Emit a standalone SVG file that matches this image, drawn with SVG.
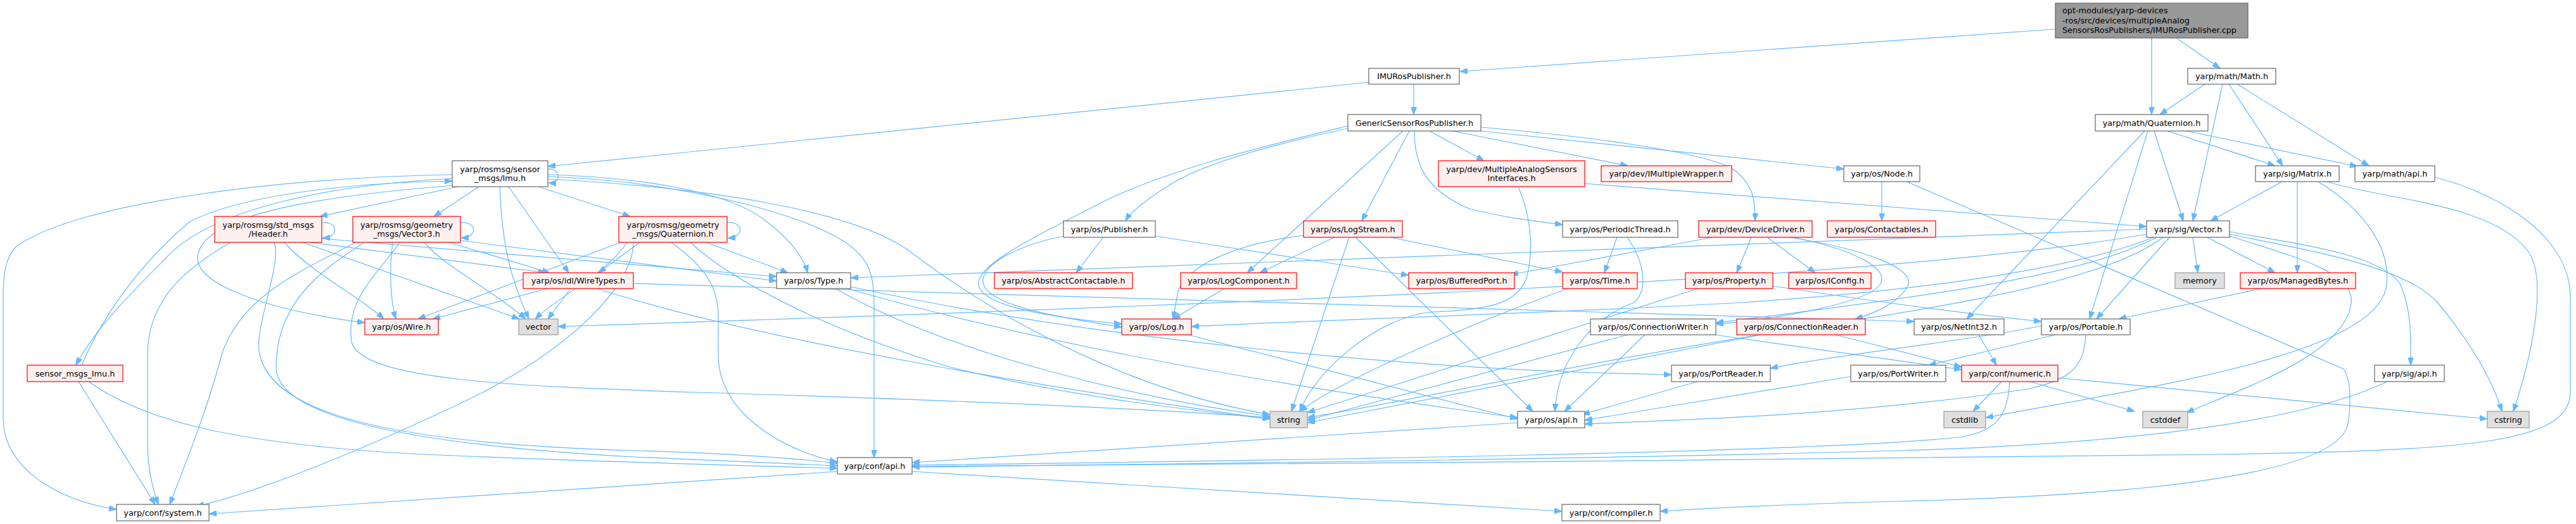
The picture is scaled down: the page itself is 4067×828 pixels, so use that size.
<svg xmlns="http://www.w3.org/2000/svg" width="4067" height="828" viewBox="0 0 4067 828">
<style>
.nw rect{fill:#ffffff;stroke:#666666;stroke-width:1.2}
.nr rect{fill:#fff0f0;stroke:#ff0000;stroke-width:1.2}
.ng rect{fill:#e0e0e0;stroke:#999999;stroke-width:1.2}
.nroot rect{fill:#999999;stroke:#666666;stroke-width:1.2}
text{font-family:"DejaVu Sans","Liberation Sans",sans-serif;font-size:12.8px;fill:#000000;text-anchor:middle}
.nroot text{text-anchor:start}
#edges path{fill:none;stroke:#63b8ff;stroke-width:1.2;marker-end:url(#a)}
</style>
<defs>
<marker id="a" markerWidth="12" markerHeight="9" refX="12" refY="4.5" orient="auto" markerUnits="userSpaceOnUse"><path d="M0,0 L12,4.5 L0,9 z" fill="#63b8ff" stroke="#63b8ff" stroke-width="1"/></marker>
</defs>
<rect x="0" y="0" width="4067" height="828" fill="#ffffff"/>
<g id="edges">
<path d="M3245,46 L2305,113"/>
<path d="M3397,60 L3397,181"/>
<path d="M3436,60 L3505,108"/>
<path d="M2232,133 L2232,181"/>
<path d="M2161,130 L865,263"/>
<path d="M3481,133 L3410,181"/>
<path d="M3509,133 L3462,349"/>
<path d="M3519,133 L3604,262"/>
<path d="M3532,133 L3740,262"/>
<path d="M3401,207 L3447,349"/>
<path d="M3422,207 L3592,262"/>
<path d="M3452,207 L3722,263"/>
<path d="M3386,207 L3105,504"/>
<path d="M3391,207 L3299,504"/>
<path d="M3603,287 L3490,349"/>
<path d="M3627,287 L3627,431"/>
<path d="M3660,287 C3730,330 3775,390 3768,450 C3755,560 3400,610 3135,660"/>
<path d="M3674,287 C3760,315 3930,320 3990,395 C4025,440 3995,570 3968,650"/>
<path d="M3844,280 C3960,310 4058,380 4058,470 L4058,620 C4058,700 3900,712 3500,718 C3000,726 2000,733 1440,737"/>
<path d="M3389,362 L1343,439"/>
<path d="M3400,375 C3300,415 3100,455 2750,478 C2500,493 2100,505 1881,516"/>
<path d="M3405,375 C3300,430 3100,462 2709,510"/>
<path d="M3415,375 C3330,440 3100,480 2900,510 C2500,570 2250,630 2064,660"/>
<path d="M3389,370 C3000,440 2000,480 881,516"/>
<path d="M3425,375 L3310,504"/>
<path d="M3462,375 L3470,431"/>
<path d="M3485,375 L3592,431"/>
<path d="M3520,366 C3620,385 3760,400 3790,450 C3808,490 3806,540 3806,577"/>
<path d="M3520,370 C3640,395 3800,420 3850,480 C3900,540 3935,600 3950,650"/>
<path d="M3520,373 C3620,405 3720,430 3712,480 C3700,560 3550,610 3452,652"/>
<path d="M3570,456 L3345,504"/>
<path d="M2971,287 L2971,349"/>
<path d="M3010,287 L3700,583 C3712,600 3712,640 3707,670 C3690,760 3300,785 3000,792 C2850,796 2700,803 2621,808"/>
<path d="M2128,203 C2000,230 1900,260 1850,290 C1810,315 1785,335 1777,349"/>
<path d="M2128,199 C2000,230 1830,270 1720,330 C1600,390 1550,420 1545,445 C1540,480 1640,500 1771,512"/>
<path d="M1679,373 C1620,385 1560,410 1552,440 C1545,480 1660,500 1771,517"/>
<path d="M2215,207 L1969,431"/>
<path d="M2225,207 L2150,349"/>
<path d="M2233,207 C2233,260 2250,300 2320,330 C2380,345 2430,350 2467,355"/>
<path d="M2257,207 L2343,254"/>
<path d="M2293,207 L2570,262"/>
<path d="M2338,207 L2911,267"/>
<path d="M2338,201 C2500,215 2700,240 2740,270 C2770,295 2771,320 2771,349"/>
<path d="M2502,290 L3389,358"/>
<path d="M2397,295 C2420,350 2420,400 2410,440 C2395,480 2350,490 2260,493 C2180,500 2080,580 2052,650"/>
<path d="M1742,375 L1699,431"/>
<path d="M1824,373 L2224,435"/>
<path d="M2058,372 C1950,385 1875,420 1860,460 L1852,504"/>
<path d="M2107,375 L1989,431"/>
<path d="M2130,375 L2039,650"/>
<path d="M2140,375 L2420,650"/>
<path d="M2195,375 L2467,430"/>
<path d="M2553,375 L2533,431"/>
<path d="M2569,375 C2600,420 2600,460 2580,478 C2520,500 2460,560 2455,650"/>
<path d="M2704,375 L2385,434"/>
<path d="M2765,375 L2742,431"/>
<path d="M2790,375 L2866,431"/>
<path d="M2826,375 C2950,395 3025,425 3012,452 C2998,478 2960,495 2929,504"/>
<path d="M2830,375 C2930,395 2985,425 2968,450 C2945,480 2800,505 2709,512"/>
<path d="M2681,456 L2064,652"/>
<path d="M2799,452 C2950,475 3100,495 3223,508"/>
<path d="M2475,456 C2300,520 2120,600 2052,650"/>
<path d="M1319,456 C1500,560 1800,630 2005,658"/>
<path d="M1338,456 C1700,560 2100,620 2396,660"/>
<path d="M1343,453 C1700,530 2200,585 2639,592"/>
<path d="M1933,456 L1852,504"/>
<path d="M1876,529 L2396,662"/>
<path d="M865,456 L683,504"/>
<path d="M901,456 L865,504"/>
<path d="M1000,448 C1800,470 2600,490 3022,508"/>
<path d="M943,456 C1200,540 1700,620 2005,662"/>
<path d="M508,352 C532,348 538,375 509,376"/>
<path d="M727,352 C751,348 757,375 728,376"/>
<path d="M1148,352 C1172,348 1178,375 1149,376"/>
<path d="M865,267 C885,265 888,290 866,289"/>
<path d="M723,295 L505,342"/>
<path d="M756,295 L685,342"/>
<path d="M850,295 L995,342"/>
<path d="M803,295 L898,431"/>
<path d="M789,295 C792,380 805,440 835,504"/>
<path d="M714,276 C450,280 120,320 25,390 C10,405 5,430 5,470 L5,660 C5,740 90,790 184,805"/>
<path d="M714,282 C520,292 330,330 260,410 C200,470 150,520 120,577"/>
<path d="M716,293 C500,310 310,340 312,410 C315,450 420,490 576,510"/>
<path d="M865,276 C1000,280 1150,300 1210,350 C1250,380 1270,410 1275,431"/>
<path d="M865,279 C1050,285 1250,330 1330,380 C1370,405 1380,430 1380,480 L1380,723"/>
<path d="M865,283 C1100,295 1350,330 1440,400 C1600,520 1800,620 2005,655"/>
<path d="M129,577 C170,480 240,400 300,350 C400,300 600,288 714,286"/>
<path d="M124,603 L245,797"/>
<path d="M140,603 C220,660 350,700 650,717 C850,727 1150,735 1322,740"/>
<path d="M364,383 C300,420 233,470 233,560 L233,700 C233,740 240,770 250,797"/>
<path d="M449,383 C490,430 570,470 606,504"/>
<path d="M508,377 L1226,437"/>
<path d="M490,383 L862,431"/>
<path d="M478,383 L820,504"/>
<path d="M433,383 C445,420 400,520 410,560 C430,650 600,700 1000,712 C1150,716 1250,724 1322,732"/>
<path d="M562,383 C470,430 380,470 350,560 C330,640 290,740 268,797"/>
<path d="M620,383 C615,420 615,470 625,504"/>
<path d="M727,380 L1226,444"/>
<path d="M709,383 L868,431"/>
<path d="M670,383 C700,420 780,460 830,504"/>
<path d="M575,383 C520,420 436,470 436,580 C436,650 600,700 1000,722 C1150,728 1250,732 1322,736"/>
<path d="M631,383 C600,430 545,470 555,540 C570,600 800,610 1100,620 C1500,632 1800,645 2005,660"/>
<path d="M1000,383 C1000,450 900,560 700,650 C550,720 400,780 310,800"/>
<path d="M980,383 L660,504"/>
<path d="M1115,383 L1244,431"/>
<path d="M1010,383 L945,431"/>
<path d="M990,383 C960,430 880,470 845,504"/>
<path d="M1060,383 C1110,420 1134,450 1134,500 L1134,560 C1134,650 1230,710 1322,730"/>
<path d="M1090,383 C1150,440 1300,520 1500,580 C1700,630 1900,650 2005,662"/>
<path d="M1322,745 L330,812"/>
<path d="M1440,745 L2466,808"/>
<path d="M2396,668 L1440,731"/>
<path d="M3173,603 C3170,660 3150,680 3100,690 C2900,715 2000,728 1440,735"/>
<path d="M3769,603 C3650,660 3400,700 3000,712 C2500,726 1800,734 1440,738"/>
<path d="M3223,515 C3100,540 2900,560 2795,582"/>
<path d="M3245,529 L3045,577"/>
<path d="M3293,529 C3290,580 3270,600 3200,615 C2900,660 2600,665 2502,670"/>
<path d="M2922,595 L2502,664"/>
<path d="M2680,603 L2498,655"/>
<path d="M2570,529 L2064,664"/>
<path d="M2597,529 L2470,650"/>
<path d="M2707,529 L3097,584"/>
<path d="M2780,529 L2064,668"/>
<path d="M2898,529 L3097,580"/>
<path d="M3124,529 L3152,577"/>
<path d="M3160,603 L3115,650"/>
<path d="M3205,603 L3370,650"/>
<path d="M3249,597 L3927,662"/>
</g>
<g id="n_root" class="nroot"><rect x="3245" y="5" width="304" height="55"/><text x="3256" y="21">opt-modules/yarp-devices</text><text x="3256" y="36.5">-ros/src/devices/multipleAnalog</text><text x="3256" y="51.5">SensorsRosPublishers/IMURosPublisher.cpp</text></g>
<g id="n_imupub" class="nw"><rect x="2161" y="108" width="143" height="25"/><text x="2232.5" y="125">IMURosPublisher.h</text></g>
<g id="n_math" class="nw"><rect x="3454" y="108" width="139" height="25"/><text x="3523.5" y="125">yarp/math/Math.h</text></g>
<g id="n_gsrp" class="nw"><rect x="2128" y="181" width="210" height="26"/><text x="2233" y="198.5">GenericSensorRosPublisher.h</text></g>
<g id="n_mquat" class="nw"><rect x="3308" y="181" width="178" height="26"/><text x="3397" y="198.5">yarp/math/Quaternion.h</text></g>
<g id="n_simu" class="nw"><rect x="714" y="254" width="151" height="41"/><text x="789.5" y="271.5">yarp/rosmsg/sensor</text><text x="789.5" y="285.5">_msgs/Imu.h</text></g>
<g id="n_masi" class="nr"><rect x="2271" y="254" width="231" height="41"/><text x="2386.5" y="271.5">yarp/dev/MultipleAnalogSensors</text><text x="2386.5" y="285.5">Interfaces.h</text></g>
<g id="n_imw" class="nr"><rect x="2528" y="262" width="206" height="25"/><text x="2631" y="279">yarp/dev/IMultipleWrapper.h</text></g>
<g id="n_node" class="nw"><rect x="2911" y="262" width="120" height="25"/><text x="2971" y="279">yarp/os/Node.h</text></g>
<g id="n_matrix" class="nw"><rect x="3561" y="262" width="132" height="25"/><text x="3627" y="279">yarp/sig/Matrix.h</text></g>
<g id="n_mapi" class="nw"><rect x="3718" y="262" width="126" height="25"/><text x="3781" y="279">yarp/math/api.h</text></g>
<g id="n_header" class="nr"><rect x="339" y="342" width="169" height="41"/><text x="423.5" y="359.5">yarp/rosmsg/std_msgs</text><text x="423.5" y="373.5">/Header.h</text></g>
<g id="n_vec3" class="nr"><rect x="557" y="342" width="170" height="41"/><text x="642" y="359.5">yarp/rosmsg/geometry</text><text x="642" y="373.5">_msgs/Vector3.h</text></g>
<g id="n_rquat" class="nr"><rect x="977" y="342" width="171" height="41"/><text x="1062.5" y="359.5">yarp/rosmsg/geometry</text><text x="1062.5" y="373.5">_msgs/Quaternion.h</text></g>
<g id="n_pub" class="nw"><rect x="1679" y="349" width="145" height="26"/><text x="1751.5" y="366.5">yarp/os/Publisher.h</text></g>
<g id="n_logstream" class="nr"><rect x="2058" y="349" width="156" height="26"/><text x="2136" y="366.5">yarp/os/LogStream.h</text></g>
<g id="n_pthread" class="nw"><rect x="2467" y="349" width="182" height="26"/><text x="2558" y="366.5">yarp/os/PeriodicThread.h</text></g>
<g id="n_ddriver" class="nr"><rect x="2682" y="349" width="179" height="26"/><text x="2771.5" y="366.5">yarp/dev/DeviceDriver.h</text></g>
<g id="n_contactables" class="nr"><rect x="2885" y="349" width="171" height="26"/><text x="2970.5" y="366.5">yarp/os/Contactables.h</text></g>
<g id="n_svec" class="nw"><rect x="3389" y="349" width="131" height="26"/><text x="3454.5" y="366.5">yarp/sig/Vector.h</text></g>
<g id="n_wiretypes" class="nr"><rect x="826" y="431" width="174" height="25"/><text x="913" y="448">yarp/os/idl/WireTypes.h</text></g>
<g id="n_type" class="nw"><rect x="1226" y="431" width="117" height="25"/><text x="1284.5" y="448">yarp/os/Type.h</text></g>
<g id="n_abscont" class="nr"><rect x="1570" y="431" width="218" height="25"/><text x="1679" y="448">yarp/os/AbstractContactable.h</text></g>
<g id="n_logcomp" class="nr"><rect x="1864" y="431" width="183" height="25"/><text x="1955.5" y="448">yarp/os/LogComponent.h</text></g>
<g id="n_bport" class="nr"><rect x="2224" y="431" width="167" height="25"/><text x="2307.5" y="448">yarp/os/BufferedPort.h</text></g>
<g id="n_time" class="nr"><rect x="2467" y="431" width="118" height="25"/><text x="2526" y="448">yarp/os/Time.h</text></g>
<g id="n_property" class="nr"><rect x="2661" y="431" width="138" height="25"/><text x="2730" y="448">yarp/os/Property.h</text></g>
<g id="n_iconfig" class="nr"><rect x="2824" y="431" width="130" height="25"/><text x="2889" y="448">yarp/os/IConfig.h</text></g>
<g id="n_memory" class="ng"><rect x="3434" y="431" width="78" height="25"/><text x="3473" y="448">memory</text></g>
<g id="n_mbytes" class="nr"><rect x="3537" y="431" width="182" height="25"/><text x="3628" y="448">yarp/os/ManagedBytes.h</text></g>
<g id="n_wire" class="nr"><rect x="576" y="504" width="116" height="25"/><text x="634" y="521">yarp/os/Wire.h</text></g>
<g id="n_vector" class="ng"><rect x="819" y="504" width="62" height="25"/><text x="850" y="521">vector</text></g>
<g id="n_log" class="nr"><rect x="1771" y="504" width="110" height="25"/><text x="1826" y="521">yarp/os/Log.h</text></g>
<g id="n_cwriter" class="nw"><rect x="2511" y="504" width="198" height="25"/><text x="2610" y="521">yarp/os/ConnectionWriter.h</text></g>
<g id="n_creader" class="nr"><rect x="2742" y="504" width="203" height="25"/><text x="2843.5" y="521">yarp/os/ConnectionReader.h</text></g>
<g id="n_netint" class="nw"><rect x="3022" y="504" width="142" height="25"/><text x="3093" y="521">yarp/os/NetInt32.h</text></g>
<g id="n_portable" class="nw"><rect x="3223" y="504" width="140" height="25"/><text x="3293" y="521">yarp/os/Portable.h</text></g>
<g id="n_smi" class="nr"><rect x="43" y="577" width="151" height="26"/><text x="118.5" y="594.5">sensor_msgs_Imu.h</text></g>
<g id="n_preader" class="nw"><rect x="2639" y="577" width="156" height="26"/><text x="2717" y="594.5">yarp/os/PortReader.h</text></g>
<g id="n_pwriter" class="nw"><rect x="2922" y="577" width="150" height="26"/><text x="2997" y="594.5">yarp/os/PortWriter.h</text></g>
<g id="n_numeric" class="nr"><rect x="3097" y="577" width="152" height="26"/><text x="3173" y="594.5">yarp/conf/numeric.h</text></g>
<g id="n_sapi" class="nw"><rect x="3749" y="577" width="110" height="26"/><text x="3804" y="594.5">yarp/sig/api.h</text></g>
<g id="n_string" class="ng"><rect x="2005" y="650" width="59" height="26"/><text x="2034.5" y="667.5">string</text></g>
<g id="n_osapi" class="nw"><rect x="2396" y="650" width="106" height="26"/><text x="2449" y="667.5">yarp/os/api.h</text></g>
<g id="n_cstdlib" class="ng"><rect x="3069" y="650" width="66" height="26"/><text x="3102" y="667.5">cstdlib</text></g>
<g id="n_cstddef" class="ng"><rect x="3383" y="650" width="71" height="26"/><text x="3418.5" y="667.5">cstddef</text></g>
<g id="n_cstring" class="ng"><rect x="3927" y="650" width="66" height="26"/><text x="3960" y="667.5">cstring</text></g>
<g id="n_capi" class="nw"><rect x="1322" y="723" width="118" height="26"/><text x="1381" y="740.5">yarp/conf/api.h</text></g>
<g id="n_system" class="nw"><rect x="184" y="797" width="146" height="26"/><text x="257" y="814.5">yarp/conf/system.h</text></g>
<g id="n_compiler" class="nw"><rect x="2466" y="797" width="155" height="26"/><text x="2543.5" y="814.5">yarp/conf/compiler.h</text></g>
</svg>
